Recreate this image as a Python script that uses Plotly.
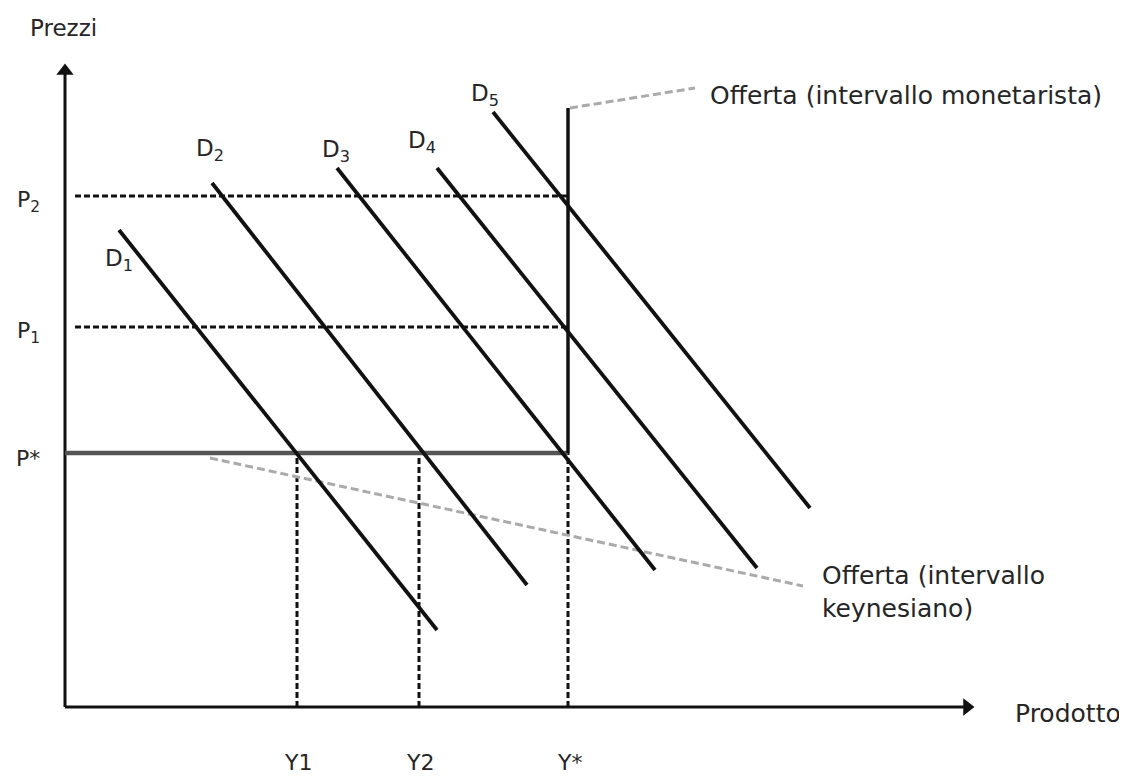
import plotly.graph_objects as go

# ---- data (units: arbitrary, origin at the axes corner) ----
price_labels = ["P<sub>2</sub>", "P<sub>1</sub>", "P*"]
price_levels = [5.11, 3.80, 2.54]
output_labels = ["Y1", "Y2", "Y*"]
output_levels = [2.32, 3.54, 5.03]
p_star = 2.54
y_star = 5.03
supply_top = 5.99

demand_names = ["D<sub>1</sub>", "D<sub>2</sub>", "D<sub>3</sub>", "D<sub>4</sub>", "D<sub>5</sub>"]
demand_x = [[0.54, 3.72], [1.47, 4.62], [2.72, 5.90], [3.72, 6.92], [4.28, 7.45]]
demand_y = [[4.77, 0.77], [5.24, 1.22], [5.39, 1.37], [5.39, 1.39], [5.95, 1.99]]
demand_label_x = [0.54, 1.45, 2.71, 3.57, 4.20]
demand_label_y = [4.47, 5.57, 5.56, 5.65, 6.12]

axis_x_end = 9.08
axis_y_end = 6.42
dash_start = 0.10

lead_mon_x = [5.05, 6.30]
lead_mon_y = [5.99, 6.19]
lead_key_x = [1.45, 7.38]
lead_key_y = [2.49, 1.21]

FONT = "DejaVu Sans"
TXT = "#262626"
INK = "#111111"

fig = go.Figure()

def line(xs, ys, color=INK, width=3.5, dash="solid"):
    fig.add_trace(go.Scatter(x=xs, y=ys, mode="lines", hoverinfo="skip",
                             line=dict(color=color, width=width, dash=dash)))

# axes (lines + triangular arrow heads)
line([0, 0], [0, axis_y_end - 0.08], width=3)
line([0, axis_x_end - 0.08], [0, 0], width=3)
fig.add_trace(go.Scatter(x=[0, axis_x_end - 0.06], y=[axis_y_end - 0.06, 0], mode="markers",
                         hoverinfo="skip",
                         marker=dict(symbol=["triangle-up", "triangle-right"], size=15,
                                     color=INK, line=dict(width=0))))

# dashed price lines
for p in price_levels[:2]:
    line([dash_start, y_star], [p, p], width=3, dash="6px,3px")
# dashed output lines
for yv in output_levels:
    line([yv, yv], [0, p_star], width=3, dash="6px,3px")
# leader lines
line(lead_mon_x, lead_mon_y, color="#aaaaaa", width=3, dash="8px,4px")
line(lead_key_x, lead_key_y, color="#aaaaaa", width=3, dash="8px,4px")
# supply: keynesian horizontal and monetarist vertical
line([0, y_star], [p_star, p_star], color="#555555", width=4.5)
line([y_star, y_star], [p_star, supply_top], width=3.5)
# demand curves
for xs, ys in zip(demand_x, demand_y):
    line(xs, ys, width=3.8)

ann = []

def label(x, y, t, xanchor="center", size=23, align="center"):
    ann.append(dict(x=x, y=y, text=t, showarrow=False, xanchor=xanchor, yanchor="middle",
                    align=align, font=dict(family=FONT, size=size, color=TXT)))

for t, p in zip(price_labels, price_levels):
    label(-0.37, p - 0.05, t, size=22)
for t, yv in zip(output_labels, output_levels):
    label(yv + 0.01, -0.55, t, size=22)
for t, x, y in zip(demand_names, demand_label_x, demand_label_y):
    label(x, y, t, size=23)

label(-0.02, 6.79, "Prezzi", size=23)
label(9.48, -0.06, "Prodotto", xanchor="left", size=25)
label(6.43, 6.12, "Offerta (intervallo monetarista)", xanchor="left", size=25)
label(7.55, 1.15, "Offerta (intervallo<br>keynesiano)", xanchor="left", size=25, align="left")

fig.update_layout(
    width=1119, height=769,
    margin=dict(l=0, r=0, t=0, b=0),
    paper_bgcolor="white", plot_bgcolor="white",
    showlegend=False,
    xaxis=dict(range=[-0.57, 10.62], visible=False, fixedrange=True),
    yaxis=dict(range=[-0.70, 6.99], visible=False, fixedrange=True),
    annotations=ann,
)

fig.write_html("out.html")
